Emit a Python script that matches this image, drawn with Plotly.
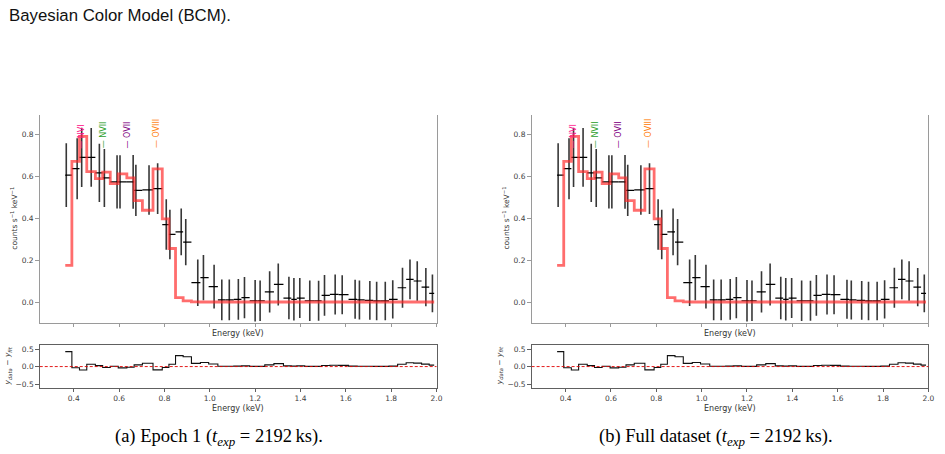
import plotly.graph_objects as go

W, H = 945, 454

# ---------------- data ----------------
bin_edges = [0.3625, 0.3917, 0.4253, 0.4574, 0.4954, 0.5275, 0.5611, 0.5962, 0.6342, 0.6663,
             0.7028, 0.7496, 0.7904, 0.8197, 0.8489, 0.8825, 0.9190, 0.9586, 0.9950, 1.0357,
             1.0695, 1.1058, 1.1396, 1.1759, 1.2106, 1.2426, 1.2829, 1.3249, 1.3596, 1.3837,
             1.4187, 1.4604, 1.4932, 1.5296, 1.5682, 1.6120, 1.6501, 1.6830, 1.7211, 1.7544,
             1.7903, 1.8285, 1.8661, 1.8990, 1.9341, 1.9678, 1.9897]

data_energy = [0.367, 0.415, 0.435, 0.477, 0.513, 0.535, 0.591, 0.604, 0.662, 0.674,
               0.732, 0.770, 0.808, 0.824, 0.874, 0.894, 0.947, 0.972, 1.019, 1.053,
               1.086, 1.126, 1.153, 1.200, 1.222, 1.264, 1.302, 1.349, 1.371, 1.397,
               1.441, 1.480, 1.506, 1.553, 1.584, 1.641, 1.660, 1.706, 1.736, 1.774,
               1.807, 1.850, 1.883, 1.915, 1.953, 1.982]

data_rate = [0.604, 0.635, 0.689, 0.689, 0.615, 0.591, 0.572, 0.572, 0.572, 0.532,
             0.534, 0.540, 0.369, 0.322, 0.334, 0.285, 0.092, 0.116, 0.073, 0.010,
             0.010, 0.013, 0.021, 0.006, 0.006, 0.048, 0.084, 0.019, 0.013, 0.019,
             0.006, 0.006, 0.032, 0.036, 0.035, 0.013, 0.010, 0.008, 0.005, 0.005,
             0.013, 0.068, 0.108, 0.100, 0.071, 0.041]

data_err = [0.152, 0.145, 0.141, 0.140, 0.139, 0.138, 0.127, 0.127, 0.128, 0.122,
            0.118, 0.121, 0.120, 0.118, 0.111, 0.110, 0.111, 0.108, 0.104, 0.097,
            0.097, 0.097, 0.098, 0.099, 0.097, 0.098, 0.100, 0.101, 0.101, 0.095,
            0.097, 0.095, 0.097, 0.095, 0.093, 0.093, 0.093, 0.092, 0.092, 0.092,
            0.091, 0.095, 0.095, 0.094, 0.091, 0.090]

model_rate = [0.175, 0.670, 0.789, 0.621, 0.588, 0.619, 0.564, 0.610, 0.591, 0.483,
              0.437, 0.634, 0.396, 0.255, 0.021, 0.005, 0.001, 0.000, 0.000, 0.000,
              0.000, 0.000, 0.000, 0.000, 0.000, 0.000, 0.000, 0.000, 0.000, 0.000,
              0.000, 0.000, 0.000, 0.000, 0.000, 0.000, 0.000, 0.000, 0.000, 0.000,
              0.000, 0.000, 0.000, 0.000, 0.000, 0.000]

line_names = ["NVI", "NVII", "OVII", "OVIII"]
line_energies = [0.433, 0.535, 0.637, 0.768]
line_colors = ["#ff1a8c", "#2ca02c", "#800080", "#ff7f0e"]

x_ticks = [0.4, 0.6, 0.8, 1.0, 1.2, 1.4, 1.6, 1.8, 2.0]
x_ticktext = ["0.4", "0.6", "0.8", "1.0", "1.2", "1.4", "1.6", "1.8", "2.0"]
y_ticks = [0.0, 0.2, 0.4, 0.6, 0.8]
y_ticktext = ["0.0", "0.2", "0.4", "0.6", "0.8"]
r_ticks = [-0.5, 0.0, 0.5]
r_ticktext = ["\u22120.5", "0.0", "0.5"]

captions = ["(a) Epoch 1 (<i>t<sub>exp</sub></i> = 2192\u2009ks).",
            "(b) Full dataset (<i>t<sub>exp</sub></i> = 2192\u2009ks)."]

# derived
residual = [d - m for d, m in zip(data_rate, model_rate)]
xerr_minus = [x - bin_edges[i] for i, x in enumerate(data_energy)]
xerr_plus = [bin_edges[i + 1] - x for i, x in enumerate(data_energy)]

# ---------------- layout geometry (pixels) ----------------
def fx(px):
    return px / W


def fy(py):
    return 1 - py / H


panel_left = [40.0, 535.0]
panel_width = 399.3
main_top, main_bot = 115.0, 323.3
res_top, res_bot = 345.7, 388.7

SPINE = "#9a9a9a"
RSPINE = "#606060"
TICKFONT = dict(family="DejaVu Sans", size=7.5, color="#404040")

fig = go.Figure()
layout = dict(width=W, height=H, margin=dict(l=0, r=0, t=0, b=0),
              paper_bgcolor="white", plot_bgcolor="white", showlegend=False,
              font=dict(family="DejaVu Sans"))
annotations = []
shapes = []

for p in range(2):
    L = panel_left[p]
    xm = "x" if p == 0 else "x3"
    ym = "y" if p == 0 else "y3"
    xr = "x2" if p == 0 else "x4"
    yr = "y2" if p == 0 else "y4"
    xm_key = "xaxis" if p == 0 else "xaxis3"
    ym_key = "yaxis" if p == 0 else "yaxis3"
    xr_key = "xaxis2" if p == 0 else "xaxis4"
    yr_key = "yaxis2" if p == 0 else "yaxis4"
    dom = [fx(L), fx(L + panel_width)]

    layout[xm_key] = dict(domain=dom, range=[0.25, 2.0], anchor=ym, showline=True,
                          linecolor=SPINE, linewidth=1.2, ticks="outside", ticklen=3.5,
                          tickcolor=SPINE, tickvals=x_ticks, showticklabels=False,
                          showgrid=False, zeroline=False)
    layout[ym_key] = dict(domain=[fy(main_bot), fy(main_top)], range=[-0.098, 0.892],
                          anchor=xm, showline=True, mirror=True, linecolor=SPINE,
                          linewidth=1.2, ticks="outside", ticklen=3.5, tickcolor=SPINE,
                          tickvals=y_ticks, ticktext=y_ticktext, tickfont=TICKFONT,
                          showgrid=False, zeroline=False)
    layout[xr_key] = dict(domain=dom, range=[0.25, 2.0], anchor=yr, showline=True,
                          mirror=True, linecolor=RSPINE, linewidth=1, ticks="outside",
                          ticklen=3.5, tickcolor=RSPINE, tickvals=x_ticks,
                          ticktext=x_ticktext, tickfont=TICKFONT, showgrid=False,
                          zeroline=False)
    layout[yr_key] = dict(domain=[fy(res_bot), fy(res_top)], range=[-0.61, 0.62],
                          anchor=xr, showline=True, mirror=True, linecolor=RSPINE,
                          linewidth=1, ticks="outside", ticklen=3.5, tickcolor=RSPINE,
                          tickvals=r_ticks, ticktext=r_ticktext, tickfont=TICKFONT,
                          showgrid=False, zeroline=False)

    # data points with error bars
    fig.add_trace(go.Scatter(
        x=data_energy, y=data_rate, mode="markers", xaxis=xm, yaxis=ym,
        marker=dict(size=1, color="black"),
        error_x=dict(type="data", symmetric=False, array=xerr_plus,
                     arrayminus=xerr_minus, width=0, thickness=1.2, color="black"),
        error_y=dict(type="data", array=data_err, width=0, thickness=1.6,
                     color="rgba(20,20,20,0.85)"),
        hoverinfo="skip"))

    # model step line
    fig.add_trace(go.Scatter(
        x=bin_edges, y=model_rate + [model_rate[-1]], mode="lines", line_shape="hv",
        xaxis=xm, yaxis=ym, line=dict(color="rgba(255,40,40,0.68)", width=2.8),
        hoverinfo="skip"))

    # residual step line
    fig.add_trace(go.Scatter(
        x=bin_edges, y=residual + [residual[-1]], mode="lines", line_shape="hv",
        xaxis=xr, yaxis=yr, line=dict(color="#111111", width=1.1),
        hoverinfo="skip"))

    shapes.append(dict(type="line", xref=f"{xr} domain", yref=yr, x0=0, x1=1, y0=0, y1=0,
                       line=dict(color="#e00000", width=0.9, dash="3px,2px")))

    # line identifiers
    for name, en, col in zip(line_names, line_energies, line_colors):
        annotations.append(dict(x=en, y=0.722, xref=xm, yref=ym, text="\u2014 " + name,
                                textangle=-90, xanchor="center", yanchor="bottom",
                                showarrow=False,
                                font=dict(family="DejaVu Sans", size=8, color=col)))

    cx = fx(L + panel_width / 2)
    annotations.append(dict(x=cx, y=fy(334), xref="paper", yref="paper",
                            text="Energy (keV)", showarrow=False, xanchor="center",
                            yanchor="middle", font=dict(size=8, color="#333333")))
    annotations.append(dict(x=cx, y=fy(409), xref="paper", yref="paper",
                            text="Energy (keV)", showarrow=False, xanchor="center",
                            yanchor="middle", font=dict(size=8, color="#333333")))
    annotations.append(dict(x=fx(L - 26.7), y=fy(219), xref="paper", yref="paper",
                            text="counts s<sup>\u22121</sup> keV<sup>\u22121</sup>",
                            textangle=-90, showarrow=False, xanchor="center",
                            yanchor="middle", font=dict(size=7.5, color="#333333")))
    annotations.append(dict(x=fx(L - 31.7), y=fy(367), xref="paper", yref="paper",
                            text="<i>y<sub>data</sub></i> \u2212 <i>y<sub>fit</sub></i>",
                            textangle=-90, showarrow=False, xanchor="center",
                            yanchor="middle", font=dict(size=7.5, color="#333333")))
    cap_cx = [220.8, 720.5][p]
    annotations.append(dict(x=fx(cap_cx), y=fy(438.3), xref="paper", yref="paper",
                            text=captions[p], showarrow=False, xanchor="center",
                            yanchor="middle",
                            font=dict(family="Liberation Serif", size=18.5, color="black")))

annotations.append(dict(x=fx(7.3), y=fy(15.5), xref="paper", yref="paper",
                        text="Bayesian Color Model (BCM).", showarrow=False,
                        xanchor="left", yanchor="middle",
                        font=dict(family="Liberation Sans", size=16.8, color="#111111")))

layout["annotations"] = annotations
layout["shapes"] = shapes
fig.update_layout(**layout)

fig.write_html("out.html")
